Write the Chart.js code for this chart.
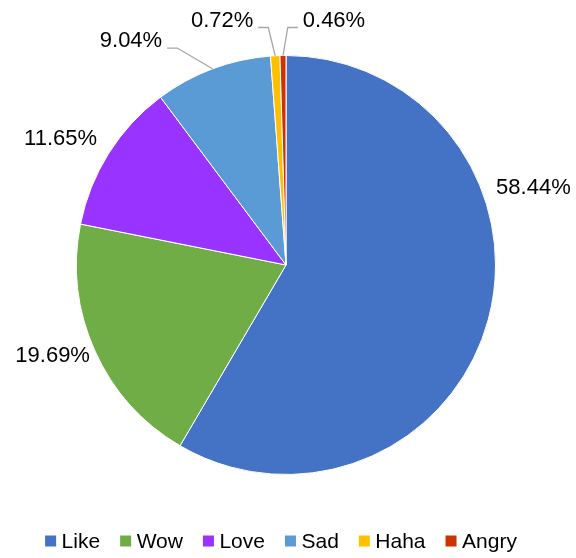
<!DOCTYPE html>
<html><head><meta charset="utf-8">
<script src="https://cdn.jsdelivr.net/npm/chart.js@4"></script>
<style>html,body{margin:0;padding:0;background:#fff}#wrap{width:576px;height:558px;position:relative}</style>
</head><body><div id="wrap"><canvas id="c"></canvas></div>
<script>
// ---- data ----
const categories = ['Like', 'Wow', 'Love', 'Sad', 'Haha', 'Angry'];
const values = [58.44, 19.69, 11.65, 9.04, 0.72, 0.46];
const valueLabels = ['58.44%', '19.69%', '11.65%', '9.04%', '0.72%', '0.46%'];

// ---- style ----
const colors = ['#4472C4', '#70AD47', '#9933FF', '#5B9BD5', '#FFC000', '#CC3300'];
const FONT = "'Liberation Sans', Arial, sans-serif";
// label centre relative to pie centre, in units of radius
const labelPos = [[1.181, -0.367], [-1.114, 0.433], [-1.076, -0.600], [-0.740, -1.069], [-0.305, -1.167], [0.229, -1.167]];
const leaderSide = [null, null, null, 'right', 'right', 'left'];

const labelPlugin = {
  id: 'labels',
  afterDatasetsDraw(chart) {
    const ctx = chart.ctx;
    const arcs = chart.getDatasetMeta(0).data;
    ctx.save();
    ctx.font = '22px ' + FONT;
    ctx.fillStyle = '#000';
    ctx.textAlign = 'center';
    ctx.textBaseline = 'middle';
    arcs.forEach((arc, i) => {
      const R = arc.outerRadius;
      const lx = arc.x + labelPos[i][0] * R;
      const ly = arc.y + labelPos[i][1] * R;
      ctx.fillText(valueLabels[i], lx, ly);
      if (leaderSide[i]) {
        const w = ctx.measureText(valueLabels[i]).width;
        const mid = (arc.startAngle + arc.endAngle) / 2;
        const px = arc.x + R * Math.cos(mid);
        const py = arc.y + R * Math.sin(mid);
        const dir = leaderSide[i] === 'right' ? 1 : -1;
        const sx = lx + dir * (w / 2 + 5);
        const sy = ly + 7;
        ctx.beginPath();
        ctx.strokeStyle = '#A6A6A6';
        ctx.lineWidth = 1.3;
        ctx.moveTo(sx, sy);
        ctx.lineTo(sx + dir * 10, sy);
        ctx.lineTo(px, py);
        ctx.stroke();
      }
    });
    ctx.restore();
  }
};

const legendPlugin = {
  id: 'customLegend',
  afterDraw(chart) {
    const ctx = chart.ctx;
    ctx.save();
    ctx.font = '21px ' + FONT;
    ctx.textBaseline = 'middle';
    ctx.textAlign = 'left';
    const box = 11, gapBox = 5.5, gapItem = 20;
    const widths = categories.map(c => box + gapBox + ctx.measureText(c).width);
    const total = widths.reduce((a, b) => a + b, 0) + gapItem * (categories.length - 1);
    const cx = 281, cy = 541;
    let x = cx - total / 2;
    categories.forEach((c, i) => {
      ctx.fillStyle = colors[i];
      ctx.fillRect(x, cy - box / 2, box, box);
      ctx.fillStyle = '#000';
      ctx.fillText(c, x + box + gapBox, cy + 1);
      x += widths[i] + gapItem;
    });
    ctx.restore();
  }
};

new Chart(document.getElementById('c'), {
  type: 'pie',
  data: {
    labels: categories,
    datasets: [{
      data: values,
      backgroundColor: colors,
      borderColor: '#FFFFFF',
      borderWidth: 1,
      hoverOffset: 0
    }]
  },
  options: {
    responsive: true,
    maintainAspectRatio: false,
    animation: false,
    events: [],
    layout: { padding: { top: 55, bottom: 83, left: 76, right: 80 } },
    plugins: { legend: { display: false }, tooltip: { enabled: false } }
  },
  plugins: [labelPlugin, legendPlugin]
});
</script>
</body></html>
